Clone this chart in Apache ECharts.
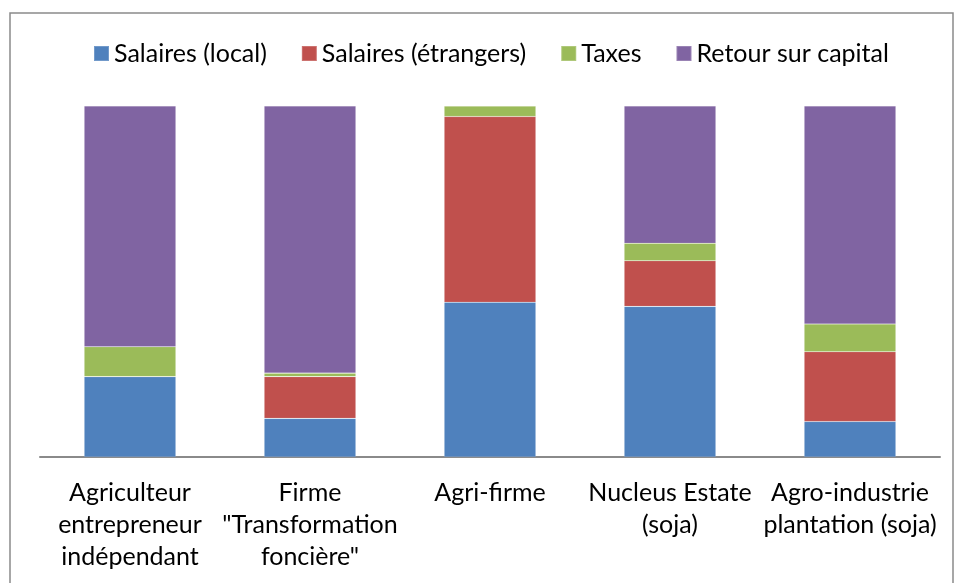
<!DOCTYPE html>
<html>
<head>
<meta charset="utf-8">
<script src="https://cdn.jsdelivr.net/npm/echarts@6/dist/echarts.min.js"></script>
<style>
  html, body { margin: 0; padding: 0; background: #fff; }
  #main { width: 956px; height: 583px; }
</style>
</head>
<body>
<div id="main"></div>
<script>
// share of value added per model (%)
const categories = [
  'Agriculteur\nentrepreneur\nindépendant',
  'Firme\n"Transformation\nfoncière"',
  'Agri-firme',
  'Nucleus Estate\n(soja)',
  'Agro-industrie\nplantation (soja)'
];
const salairesLocal = [22.9, 11.0, 44.1, 42.9, 10.1];
const salairesEtrangers = [0, 11.9, 52.9, 13.0, 19.9];
const taxes = [8.5, 1.0, 3.0, 5.0, 7.9];
const retourCapital = [68.6, 76.1, 0, 39.1, 62.1];

const font = 'Lato, "Open Sans", sans-serif';

function serie(name, data, color) {
  return {
    name,
    type: 'bar',
    stack: 'total',
    barWidth: '51%',
    data,
    itemStyle: { color, borderColor: 'rgba(255,255,255,0.2)', borderWidth: 0.6 }
  };
}

const chart = echarts.init(document.getElementById('main'));
chart.setOption({
  animation: false,
  textStyle: { fontFamily: font },
  graphic: [{
    type: 'rect',
    shape: { x: 10, y: 13, width: 943, height: 580 },
    style: { fill: 'none', stroke: '#8a8a8a', lineWidth: 1.5 },
    silent: true
  }],
  legend: {
    top: 36,
    left: 88,
    itemWidth: 15,
    itemHeight: 15,
    itemGap: 34,
    icon: 'rect',
    textStyle: { fontSize: 25, color: '#000', fontFamily: font },
    data: ['Salaires (local)', 'Salaires (étrangers)', 'Taxes', 'Retour sur capital']
  },
  grid: { left: 40, right: 16, top: 106, bottom: 126 },
  xAxis: {
    type: 'category',
    data: categories,
    axisLine: { lineStyle: { color: '#8a8a8a', width: 2 } },
    axisTick: { show: false },
    axisLabel: {
      interval: 0,
      margin: 20,
      fontSize: 25,
      lineHeight: 32,
      color: '#000',
      fontFamily: font
    }
  },
  yAxis: {
    type: 'value',
    min: 0,
    max: 100,
    show: false
  },
  series: [
    serie('Salaires (local)', salairesLocal, '#4f81bd'),
    serie('Salaires (étrangers)', salairesEtrangers, '#c0504d'),
    serie('Taxes', taxes, '#9bbb59'),
    serie('Retour sur capital', retourCapital, '#8064a2')
  ]
});
</script>
</body>
</html>
